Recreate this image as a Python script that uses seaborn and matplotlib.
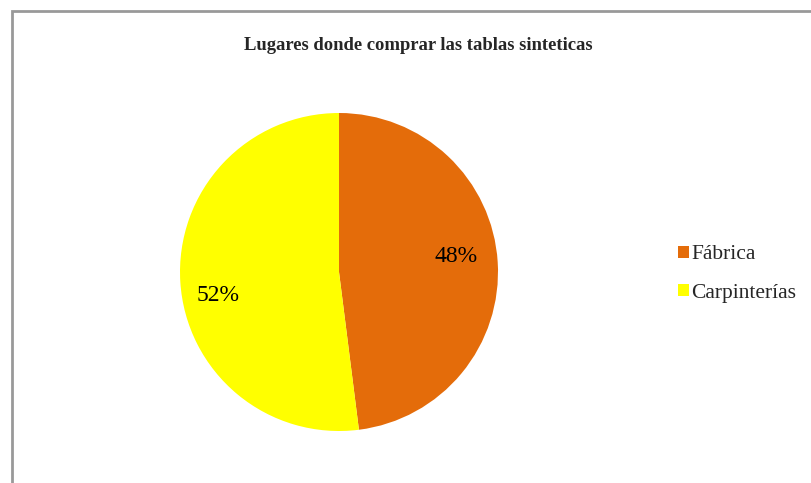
import seaborn as sns
import matplotlib.pyplot as plt
from matplotlib.patches import Rectangle, Patch

# data
lugares = ["Fábrica", "Carpinterías"]
porcentajes = [48, 52]
colores = ["#E46C0A", "#FFFF00"]
titulo = "Lugares donde comprar las tablas sinteticas"

sns.set_theme(style="white")
plt.rcParams["font.family"] = ["Liberation Serif", "DejaVu Serif"]

W, H = 811, 483
fig = plt.figure(figsize=(W / 100, H / 100), dpi=100)

# chart area border (goes past right and bottom edges)
fig.patches.append(Rectangle((11.5 / W, -0.1), 1.2, (H - 11) / H + 0.1,
                             transform=fig.transFigure, fill=False,
                             edgecolor="#999999", linewidth=2))

cx, cy, r = 339, H - 272, 159
ax = fig.add_axes([(cx - r) / W, (cy - r) / H, 2 * r / W, 2 * r / H])
wedges, texts, autotexts = ax.pie(porcentajes, colors=colores, startangle=90,
                                  counterclock=False, autopct="%1.0f%%",
                                  pctdistance=0.75, radius=1,
                                  textprops={"fontsize": 17, "color": "black"},
                                  wedgeprops={"linewidth": 0})
# excel-like label placement
for t, pos in zip(autotexts, [(0.736, 0.10), (-0.76, -0.145)]):
    t.set_position(pos)
ax.set_xlim(-1, 1)
ax.set_ylim(-1, 1)
ax.set_aspect("equal")
ax.axis("off")

fig.text(418 / W, 1 - 45 / H, titulo, ha="center", va="center",
         fontsize=13.4, fontweight="bold")

handles = [Patch(facecolor=c, edgecolor="none", label=l) for c, l in zip(colores, lugares)]
fig.legend(handles=handles, loc="center left", bbox_to_anchor=(659 / W, 1 - 274 / H),
           frameon=False, fontsize=15.5, handlelength=0.5, handleheight=0.5,
           handletextpad=0.1, labelspacing=0.9)

fig.savefig("out.png", dpi=100)
